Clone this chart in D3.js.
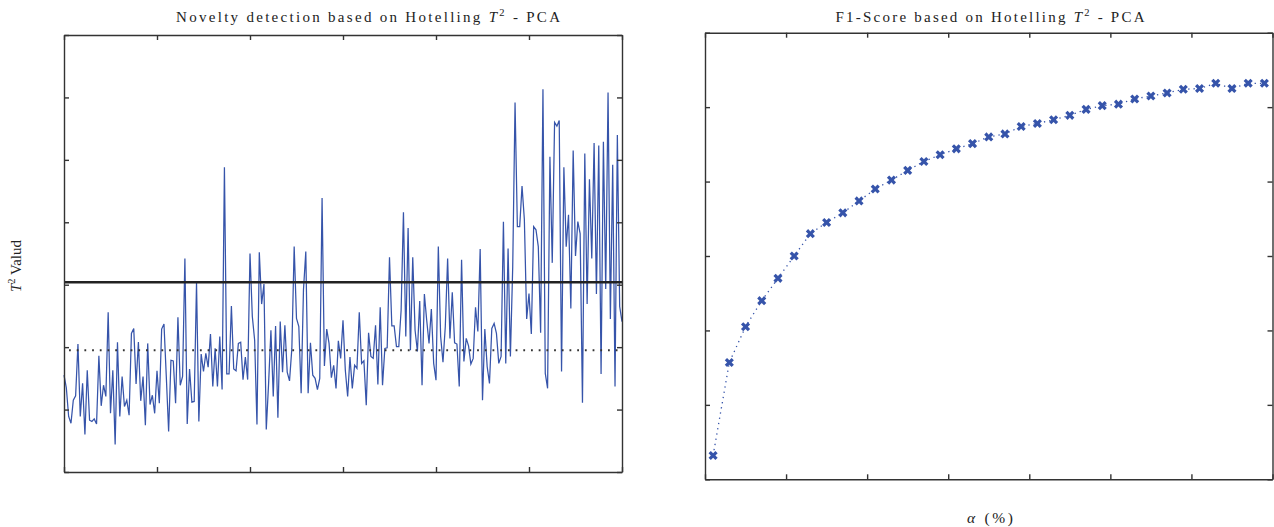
<!DOCTYPE html>
<html>
<head>
<meta charset="utf-8">
<script src="https://cdn.jsdelivr.net/npm/d3@7"></script>
<style>
    body { margin: 0; background: #fff; }
    svg { display: block; }
    text { font-family: 'Liberation Serif', 'DejaVu Serif', serif; fill: #222; }
</style>
</head>
<body>
<svg id="chart" width="1274" height="527"></svg>
<script>
// ============================================================================
// Données
// ============================================================================

// T² par échantillon (gauche)
const t2Values = [
    15.5, 13.5, 8.9, 7.8, 11.5, 12.2, 20.5, 8.9, 14.2, 6.0, 16.3, 8.3, 8.1, 8.5, 7.7, 18.6,
    10.6, 13.9, 12.1, 25.6, 9.4, 16.3, 4.4, 20.8, 8.9, 15.3, 10.5, 11.5, 9.1, 22.2, 23.0, 14.1,
    20.8, 11.4, 15.3, 7.5, 20.6, 10.8, 12.3, 9.4, 16.2, 11.0, 22.9, 23.7, 15.3, 6.5, 17.9, 17.8,
    11.0, 24.8, 13.9, 15.3, 34.2, 7.7, 16.5, 11.2, 11.3, 30.3, 8.1, 18.9, 16.1,
    19.0, 16.8, 22.1, 13.7, 19.8, 13.7, 21.7, 13.2, 48.8, 15.7, 15.7, 26.6, 16.5, 16.2, 20.6, 20.8,
    14.8, 18.4, 14.8, 35.0, 24.9, 21.1, 7.6, 35.2, 26.9, 30.1, 6.8, 14.2, 22.7, 12.1, 23.4, 8.7,
    24.1, 16.0, 23.5, 16.0, 14.6, 19.8, 36.1, 24.6, 23.3, 12.6, 29.2, 35.3, 12.6, 20.7, 15.5, 15.0,
    13.2, 15.0, 43.9, 17.0, 22.9,
    20.6, 15.1, 17.1, 13.4, 21.0, 18.2, 24.3, 16.3, 12.1, 18.4, 13.4, 17.1, 16.6, 25.6, 17.4, 17.8,
    10.7, 22.3, 18.5, 18.2, 23.5, 14.0, 26.4, 13.9, 19.8, 19.9, 34.4, 23.4, 23.4, 20.1, 20.1, 25.9,
    41.6, 21.7, 39.1, 19.5, 34.4, 22.7, 19.3, 27.4, 13.9, 28.5, 24.3, 20.6, 26.1, 17.4, 14.7, 36.1,
    21.7, 17.6, 23.3, 34.2, 21.4, 28.8, 20.7, 20.5, 13.7, 34.0, 17.7, 21.4, 20.2, 17.3, 18.2, 26.4,
    22.5,
    35.7, 11.5, 22.9, 16.9, 14.2, 23.0, 23.8, 22.2, 17.4, 18.5, 40.1, 17.4, 35.8, 18.5, 32.9, 59.2,
    39.3, 39.3, 45.8, 40.5, 24.5, 28.6, 22.1, 39.3, 38.8, 36.1, 22.3, 61.3, 15.8, 13.4, 50.5, 33.5,
    56.0, 55.4, 56.3, 16.1, 48.8, 36.1, 41.2, 26.2, 51.5, 34.6, 40.1, 38.2, 11.1, 51.0, 26.9, 46.9,
    34.2, 52.7, 28.5, 52.3, 15.7, 52.9, 29.3, 60.8, 24.5, 49.2, 13.7, 54.0, 26.5, 24.1
];
const t2Limit = 30.4;      // seuil (trait plein)
const t2Mean = 19.5;       // niveau pointillé
const t2YTicks = [0, 10, 20, 30, 40, 50, 60, 70];

// F1-Score en fonction de alpha (droite)
const alphaValues = [
    0.5, 1.5, 2.5, 3.5, 4.5, 5.5, 6.5, 7.5, 8.5, 9.5, 10.5, 11.5, 12.5, 13.5, 14.5, 15.5, 16.5,
    17.5, 18.5, 19.5, 20.5, 21.5, 22.5, 23.5, 24.5, 25.5, 26.5, 27.5, 28.5, 29.5, 30.5, 31.5,
    32.5, 33.5, 34.5
];
const f1Values = [
    0.432, 0.557, 0.605, 0.640, 0.670, 0.700, 0.730, 0.745, 0.758, 0.774, 0.790, 0.802, 0.815,
    0.827, 0.836, 0.844, 0.851, 0.860, 0.864, 0.874, 0.878, 0.883, 0.889, 0.897, 0.902, 0.904,
    0.911, 0.915, 0.919, 0.924, 0.925, 0.932, 0.925, 0.932, 0.932
];
const alphaTicks = [0, 5, 10, 15, 20, 25, 30, 35];
const f1Ticks = [0.4, 0.5, 0.6, 0.7, 0.8, 0.9, 1.0];

const lineColor = '#3654aa';
const frameColor = '#333';

const svg = d3.select('#chart');

createNoveltyChart();
createF1Chart();

/**
 * Cadre + graduations internes sur les 4 côtés, sans étiquettes
 */
function drawFrame(xScale, yScale, xTicks, yTicks) {
    const [x0, x1] = xScale.range();
    const [y0, y1] = yScale.range();
    const axes = [
        d3.axisBottom(xScale).tickValues(xTicks).tickSize(-5),
        d3.axisTop(xScale).tickValues(xTicks).tickSize(-5),
        d3.axisLeft(yScale).tickValues(yTicks).tickSize(-5),
        d3.axisRight(yScale).tickValues(yTicks).tickSize(-5)
    ];
    const shifts = [`translate(0,${y0})`, `translate(0,${y1})`, `translate(${x0},0)`, `translate(${x1},0)`];

    axes.forEach((axis, i) => {
        const g = svg.append('g')
            .attr('transform', shifts[i])
            .call(axis.tickFormat('').tickSizeOuter(0));
        g.selectAll('path, line')
            .style('stroke', frameColor)
            .style('stroke-width', 1.4);
        g.selectAll('text').remove();
    });
}

function addTitle(x, width, before, after) {
    const t = svg.append('text')
        .attr('x', x)
        .attr('y', 22)
        .attr('text-anchor', 'middle')
        .attr('textLength', width)
        .attr('lengthAdjust', 'spacing')
        .style('font-size', '15px');
    t.append('tspan').text(before);
    t.append('tspan').style('font-style', 'italic').text('T');
    t.append('tspan').attr('dy', -6).style('font-size', '10.5px').text('2');
    t.append('tspan').attr('dy', 6).text(after);
}

function createNoveltyChart() {
    const xScale = d3.scaleLinear()
        .domain([0, t2Values.length - 1])
        .range([64, 622]);

    const yScale = d3.scaleLinear()
        .domain([0, 70])
        .range([472, 35]);

    const step = (t2Values.length - 1) / 6;
    const xTicks = d3.range(7).map(i => i * step);

    const line = d3.line()
        .x((d, i) => xScale(i))
        .y(d => yScale(d));

    svg.append('path')
        .datum(t2Values)
        .attr('fill', 'none')
        .attr('stroke', lineColor)
        .attr('stroke-width', 1.25)
        .attr('d', line);

    // seuil
    svg.append('line')
        .attr('x1', xScale.range()[0])
        .attr('x2', xScale.range()[1])
        .attr('y1', yScale(t2Limit))
        .attr('y2', yScale(t2Limit))
        .attr('stroke', '#222')
        .attr('stroke-width', 2.4);

    svg.append('line')
        .attr('x1', xScale.range()[0] + 5)
        .attr('x2', xScale.range()[1])
        .attr('y1', yScale(t2Mean))
        .attr('y2', yScale(t2Mean))
        .attr('stroke', '#333')
        .attr('stroke-width', 2)
        .attr('stroke-dasharray', '1.8,5.9');

    drawFrame(xScale, yScale, xTicks, t2YTicks);

    addTitle(368, 384, 'Novelty detection based on Hotelling ', ' - PCA');

    const label = svg.append('text')
        .attr('transform', 'translate(21,266) rotate(-90)')
        .attr('text-anchor', 'middle')
        .attr('textLength', 52)
        .attr('lengthAdjust', 'spacing')
        .style('font-size', '15px');
    label.append('tspan').style('font-style', 'italic').text('T');
    label.append('tspan').attr('dy', -6).style('font-size', '10.5px').text('2');
    label.append('tspan').attr('dy', 6).text(' Valud');
}

function createF1Chart() {
    const xScale = d3.scaleLinear()
        .domain([0, 35])
        .range([705, 1272.5]);

    const yScale = d3.scaleLinear()
        .domain([0.4, 1.0])
        .range([479.3, 32.7]);

    const points = alphaValues.map((a, i) => ({ alpha: a, f1: f1Values[i] }));

    const line = d3.line()
        .x(d => xScale(d.alpha))
        .y(d => yScale(d.f1));

    svg.append('path')
        .datum(points)
        .attr('fill', 'none')
        .attr('stroke', lineColor)
        .attr('stroke-width', 1.3)
        .attr('stroke-dasharray', '1.3,4')
        .attr('d', line);

    const cross = d3.symbol().type(d3.symbolCross).size(52);

    svg.selectAll('.f1-mark')
        .data(points)
        .enter()
        .append('path')
        .attr('class', 'f1-mark')
        .attr('d', cross)
        .attr('transform', d => `translate(${xScale(d.alpha)},${yScale(d.f1)}) rotate(45)`)
        .attr('fill', lineColor);

    drawFrame(xScale, yScale, alphaTicks, f1Ticks);

    addTitle(990, 309, 'F1-Score based on Hotelling ', ' - PCA');

    const label = svg.append('text')
        .attr('x', 990)
        .attr('y', 523)
        .attr('text-anchor', 'middle')
        .attr('textLength', 46)
        .attr('lengthAdjust', 'spacing')
        .style('font-size', '15.5px');
    label.append('tspan').style('font-style', 'italic').text('α');
    label.append('tspan').text(' (%)');
}
</script>
</body>
</html>
